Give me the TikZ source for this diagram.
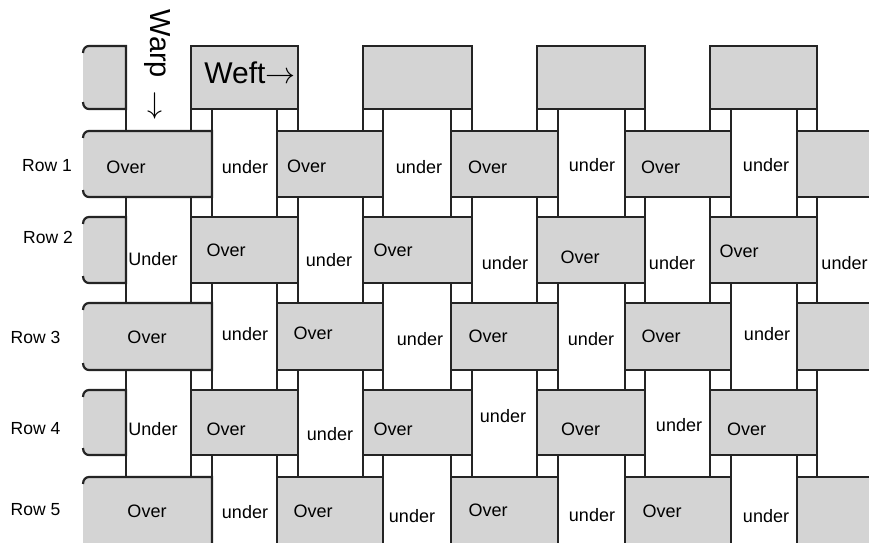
\documentclass[tikz,border=0pt]{standalone}
\usepackage{fix-cm}
\usepackage{fontspec}
\setmainfont{Liberation Sans}
\definecolor{weftgrey}{HTML}{D4D4D4}
\definecolor{edgecol}{HTML}{242424}
\begin{document}
\begin{tikzpicture}[x=1pt,y=-1pt,
  warpline/.style={draw=edgecol,line width=2.2pt},
  weftbox/.style={fill=weftgrey,draw=edgecol,line width=2.2pt},
  cutfill/.style={fill=weftgrey},
  cutedge/.style={draw=edgecol,line width=2.2pt,line join=miter},
  lbl/.style={font=\fontsize{18}{20}\selectfont,inner sep=0pt},
  rowlbl/.style={font=\fontsize{17.5}{20}\selectfont,inner sep=0pt},
  bigtxt/.style={font=\fontsize{29}{31}\selectfont,inner sep=0pt}]
\useasboundingbox (0,0) rectangle (869,542);
\clip (0,0) rectangle (869,542);
% warp strips (white, side lines only)
\foreach \l/\r in {126/191,212/277,298/363,383/451,472/537,558/625,645/710,731/797,817/882}{
  \draw[warpline] (\l,46) -- (\l,560);
  \draw[warpline] (\r,46) -- (\r,560);
}
% odd rows: cut box over warp 1 and boxes over odd warps
\foreach \t/\b in {131/197,303/370,477/560}{
  \fill[cutfill] (212,\t) -- (89,\t) .. controls (85.7,\t) and (83,\t+2.7) .. (83,\t+6)
     -- (83,\b-6) .. controls (83,\b-2.7) and (85.7,\b) .. (89,\b) -- (212,\b) -- cycle;
  \draw[cutedge] (83,\t+7) .. controls (83,\t+2.7) and (85.7,\t) .. (89,\t) -- (212,\t)
     -- (212,\b) -- (89,\b) .. controls (85.7,\b) and (83,\b-2.7) .. (83,\b-7);
  \foreach \l/\r in {277/383,451/558,625/731,797/903}{
    \draw[weftbox] (\l,\t) rectangle (\r,\b);
  }
}
% even rows: cut piece left of warp 1 and boxes over even warps
\foreach \t/\b in {46/109,217/283,390/455}{
  \fill[cutfill] (126,\t) -- (89,\t) .. controls (85.7,\t) and (83,\t+2.7) .. (83,\t+6)
     -- (83,\b-6) .. controls (83,\b-2.7) and (85.7,\b) .. (89,\b) -- (126,\b) -- cycle;
  \draw[cutedge] (83,\t+7) .. controls (83,\t+2.7) and (85.7,\t) .. (89,\t) -- (126,\t)
     -- (126,\b) -- (89,\b) .. controls (85.7,\b) and (83,\b-2.7) .. (83,\b-7);
  \foreach \l/\r in {191/298,363/472,537/645,710/817}{
    \draw[weftbox] (\l,\t) rectangle (\r,\b);
  }
}
% headings
\node[bigtxt,font=\fontsize{30}{32}\selectfont] (weft) at (250,73) {Weft$\rightarrow$};
\node[bigtxt,rotate=-90] (warp) at (157,44) {Warp};
\node[bigtxt,font=\fontsize{30}{32}\selectfont] (warparrow) at (155,106) {$\downarrow$};
% row labels
\node[rowlbl] (row1) at (47,166) {Row 1};
\node[rowlbl] (row2) at (48,237) {Row 2};
\node[rowlbl] (row3) at (35.5,337) {Row 3};
\node[rowlbl] (row4) at (35.5,429) {Row 4};
\node[rowlbl] (row5) at (35.5,510) {Row 5};
% row 1
\node[lbl] (a1) at (126,167) {Over};
\node[lbl] (a2) at (245,167) {under};
\node[lbl] (a3) at (306.5,166) {Over};
\node[lbl] (a4) at (419,167) {under};
\node[lbl] (a5) at (487.5,167) {Over};
\node[lbl] (a6) at (592,165) {under};
\node[lbl] (a7) at (660.5,167) {Over};
\node[lbl] (a8) at (766,165) {under};
% row 2
\node[lbl] (b1) at (153,259) {Under};
\node[lbl] (b2) at (226,250) {Over};
\node[lbl] (b3) at (329,260) {under};
\node[lbl] (b4) at (393,250) {Over};
\node[lbl] (b5) at (505,263) {under};
\node[lbl] (b6) at (580,257) {Over};
\node[lbl] (b7) at (672,263) {under};
\node[lbl] (b8) at (739,251) {Over};
\node[lbl] (b9) at (844.5,263) {under};
% row 3
\node[lbl] (c1) at (147,337) {Over};
\node[lbl] (c2) at (245,334) {under};
\node[lbl] (c3) at (313,333) {Over};
\node[lbl] (c4) at (420,339) {under};
\node[lbl] (c5) at (488,336) {Over};
\node[lbl] (c6) at (591,339) {under};
\node[lbl] (c7) at (661,336) {Over};
\node[lbl] (c8) at (767,334) {under};
% row 4
\node[lbl] (d1) at (153,429) {Under};
\node[lbl] (d2) at (226,429) {Over};
\node[lbl] (d3) at (330,434) {under};
\node[lbl] (d4) at (393,429) {Over};
\node[lbl] (d5) at (503,416) {under};
\node[lbl] (d6) at (580.5,429) {Over};
\node[lbl] (d7) at (679,425) {under};
\node[lbl] (d8) at (746.5,429) {Over};
% row 5
\node[lbl] (e1) at (147,511) {Over};
\node[lbl] (e2) at (245,512) {under};
\node[lbl] (e3) at (313,511) {Over};
\node[lbl] (e4) at (412,516) {under};
\node[lbl] (e5) at (488,510) {Over};
\node[lbl] (e6) at (592,515) {under};
\node[lbl] (e7) at (662,511) {Over};
\node[lbl] (e8) at (766,516) {under};
\end{tikzpicture}
\end{document}
